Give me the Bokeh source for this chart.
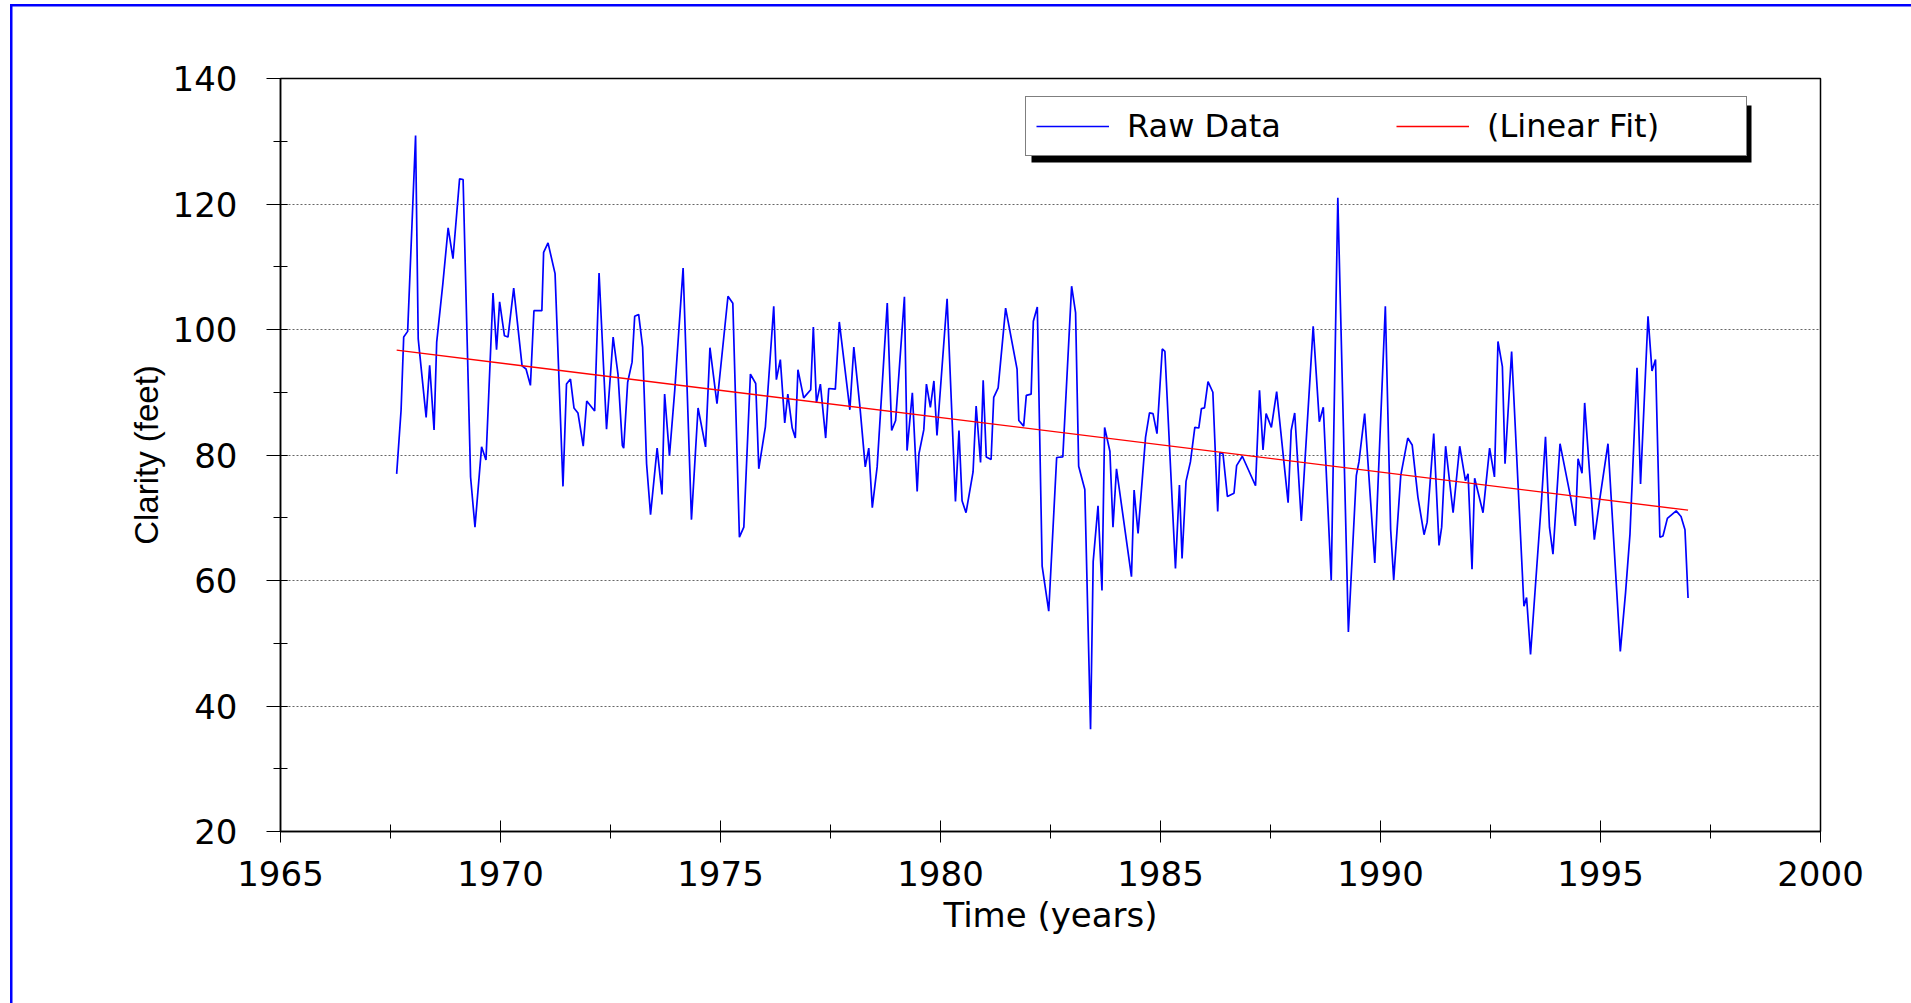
from bokeh.plotting import figure
from bokeh.models import (Range1d, SingleIntervalTicker, Legend, LegendItem,
                          BoxAnnotation, ColumnDataSource)
from bokeh.embed import file_html
from bokeh.resources import INLINE

# ---------------- data ----------------
years = [
    1967.64, 1967.74, 1967.80, 1967.89, 1968.07, 1968.13, 1968.31, 1968.39, 1968.49, 1968.55,
    1968.69, 1968.81, 1968.92, 1969.07, 1969.15, 1969.32, 1969.42, 1969.57, 1969.67, 1969.83,
    1969.91, 1969.98, 1970.09, 1970.17, 1970.30, 1970.49, 1970.58, 1970.68, 1970.76, 1970.94,
    1970.98, 1971.08, 1971.24, 1971.42, 1971.50, 1971.59, 1971.67, 1971.76, 1971.88, 1971.96,
    1972.14, 1972.24, 1972.41, 1972.56, 1972.67, 1972.77, 1972.80, 1972.89, 1972.99, 1973.05,
    1973.14, 1973.23, 1973.32, 1973.41, 1973.56, 1973.67, 1973.73, 1973.84, 1973.96, 1974.15,
    1974.34, 1974.49, 1974.66, 1974.76, 1974.92, 1975.17, 1975.28, 1975.43, 1975.53, 1975.68,
    1975.80, 1975.87, 1976.02, 1976.21, 1976.27, 1976.36, 1976.46, 1976.53, 1976.63, 1976.70,
    1976.76, 1976.89, 1977.05, 1977.11, 1977.18, 1977.27, 1977.39, 1977.46, 1977.61, 1977.70,
    1977.94, 1978.03, 1978.17, 1978.29, 1978.37, 1978.45, 1978.56, 1978.79, 1978.89, 1978.98,
    1979.18, 1979.24, 1979.36, 1979.47, 1979.51, 1979.62, 1979.68, 1979.77, 1979.85, 1979.92,
    1980.15, 1980.34, 1980.42, 1980.49, 1980.58, 1980.74, 1980.81, 1980.91, 1980.97, 1981.04,
    1981.15, 1981.21, 1981.31, 1981.48, 1981.74, 1981.78, 1981.89, 1981.95, 1982.06, 1982.11,
    1982.20, 1982.31, 1982.46, 1982.64, 1982.78, 1982.98, 1983.07, 1983.14, 1983.28, 1983.41,
    1983.47, 1983.58, 1983.67, 1983.73, 1983.85, 1983.92, 1984.00, 1984.34, 1984.40, 1984.49,
    1984.66, 1984.75, 1984.83, 1984.92, 1985.04, 1985.10, 1985.34, 1985.43, 1985.49, 1985.58,
    1985.68, 1985.78, 1985.87, 1985.93, 1986.00, 1986.08, 1986.19, 1986.30, 1986.35, 1986.42,
    1986.52, 1986.67, 1986.73, 1986.86, 1987.16, 1987.25, 1987.33, 1987.40, 1987.52, 1987.64,
    1987.90, 1987.97, 1988.05, 1988.20, 1988.47, 1988.61, 1988.70, 1988.88, 1989.03, 1989.27,
    1989.45, 1989.51, 1989.64, 1989.87, 1990.11, 1990.23, 1990.30, 1990.46, 1990.62, 1990.72,
    1990.85, 1990.99, 1991.06, 1991.21, 1991.33, 1991.39, 1991.48, 1991.65, 1991.80, 1991.93,
    1991.99, 1992.08, 1992.14, 1992.33, 1992.48, 1992.59, 1992.67, 1992.77, 1992.83, 1992.98,
    1993.26, 1993.32, 1993.41, 1993.55, 1993.66, 1993.75, 1993.84, 1993.92, 1994.08, 1994.32,
    1994.43, 1994.49, 1994.58, 1994.64, 1994.86, 1994.99, 1995.17, 1995.45, 1995.57, 1995.67,
    1995.83, 1995.91, 1996.08, 1996.17, 1996.25, 1996.35, 1996.42, 1996.52, 1996.72, 1996.83,
    1996.92, 1996.99,
]
clarity = [
    77.0, 87.1, 98.8, 99.7, 130.9, 98.5, 86.0, 94.3, 84.0, 98.0,
    107.3, 116.2, 111.3, 124.0, 123.9, 76.5, 68.5, 81.3, 79.2, 105.8,
    96.8, 104.4, 99.0, 98.8, 106.6, 94.2, 93.7, 91.1, 103.0, 103.0,
    112.3, 113.8, 108.9, 75.0, 91.3, 92.1, 87.5, 86.7, 81.4, 88.6,
    87.0, 109.0, 84.1, 98.8, 92.9, 81.5, 81.1, 91.6, 94.8, 102.1,
    102.4, 97.2, 78.6, 70.5, 81.1, 73.7, 89.7, 79.9, 90.3, 109.8,
    69.7, 87.5, 81.3, 97.1, 88.2, 105.3, 104.2, 66.9, 68.5, 92.9,
    91.4, 77.8, 84.5, 103.7, 92.0, 95.2, 85.1, 89.7, 84.3, 82.7,
    93.6, 89.1, 90.4, 100.4, 88.3, 91.3, 82.7, 90.6, 90.5, 101.2,
    87.2, 97.2, 87.6, 78.1, 81.1, 71.6, 78.1, 104.2, 83.9, 85.5,
    105.2, 80.7, 89.9, 74.2, 80.2, 84.0, 91.3, 87.6, 91.8, 83.1,
    104.9, 72.6, 83.9, 72.7, 70.8, 77.3, 87.8, 78.8, 91.9, 79.7,
    79.3, 89.2, 90.7, 103.4, 93.7, 85.5, 84.6, 89.5, 89.7, 101.3,
    103.6, 62.3, 55.1, 79.6, 79.7, 106.9, 102.7, 78.2, 74.5, 36.3,
    63.0, 71.9, 58.4, 84.4, 80.6, 68.5, 77.8, 60.6, 74.4, 67.5,
    82.8, 86.7, 86.6, 83.4, 96.9, 96.5, 61.9, 75.2, 63.5, 75.8,
    78.9, 84.4, 84.3, 87.4, 87.5, 91.7, 90.0, 71.0, 80.4, 80.2,
    73.4, 73.9, 78.3, 79.8, 75.1, 90.3, 80.8, 86.6, 84.4, 90.1,
    72.4, 83.9, 86.7, 69.5, 100.5, 85.3, 87.6, 60.0, 121.0, 51.8,
    76.7, 78.9, 86.6, 62.8, 103.7, 68.2, 60.1, 76.7, 82.7, 81.6,
    73.3, 67.3, 69.3, 83.4, 65.6, 68.5, 81.4, 70.8, 81.4, 75.9,
    77.0, 61.8, 76.3, 70.8, 81.1, 76.5, 98.1, 94.1, 78.6, 96.5,
    55.9, 57.3, 48.2, 62.0, 72.8, 82.9, 68.5, 64.2, 81.8, 73.3,
    68.7, 79.4, 77.1, 88.3, 66.5, 73.3, 81.8, 48.7, 58.1, 67.4,
    93.9, 75.4, 102.1, 93.4, 95.2, 66.9, 67.1, 69.9, 71.1, 70.2,
    68.1, 57.2,
]
fit_years = [1967.64, 1996.99]
fit_values = [96.7, 71.2]

x_label = "Time (years)"
y_label = "Clarity (feet)"
series_names = ["Raw Data", "(Linear Fit)"]

# ---------------- figure ----------------
p = figure(width=1911, height=1003, output_backend="svg", toolbar_location=None,
           x_range=Range1d(1965, 2000), y_range=Range1d(20, 140),
           min_border_left=280, min_border_right=91, min_border_top=78,
           min_border_bottom=172)
p.background_fill_color = "white"
# transparent border area so the page frame drawn on the host element shows through
p.border_fill_color = "white"
p.border_fill_alpha = 0.0
p.styles = {
    "background-color": "white",
    "box-shadow": "inset 10px 4px 0 0 white, inset 12.5px 6.5px 0 0 #0000ff",
}
p.outline_line_color = "black"
p.outline_line_width = 1.5

raw_src = ColumnDataSource(dict(x=years, y=clarity))
fit_src = ColumnDataSource(dict(x=fit_years, y=fit_values))
r_raw = p.line("x", "y", source=raw_src, line_color="#0000ff", line_width=1.7)
r_fit = p.line("x", "y", source=fit_src, line_color="#ff0000", line_width=1.3)

TICK_FONT = "DejaVu Sans"

xa = p.xaxis[0]
xa.ticker = SingleIntervalTicker(interval=5, num_minor_ticks=2)
xa.axis_label = x_label
xa.axis_line_color = "black"
xa.axis_line_width = 1.5
xa.major_tick_in = 11
xa.major_tick_out = 11
xa.minor_tick_in = 7
xa.minor_tick_out = 7
xa.major_tick_line_color = "black"
xa.minor_tick_line_color = "black"
xa.major_label_text_font = TICK_FONT
xa.major_label_text_font_size = "34px"
xa.major_label_text_color = "black"
xa.major_label_standoff = 18
xa.axis_label_text_font = TICK_FONT
xa.axis_label_text_font_size = "34px"
xa.axis_label_text_font_style = "normal"
xa.axis_label_text_color = "black"
xa.axis_label_standoff = 6

ya = p.yaxis[0]
ya.ticker = SingleIntervalTicker(interval=20, num_minor_ticks=2)
ya.axis_label = y_label
ya.axis_line_color = "black"
ya.axis_line_width = 1.5
ya.major_tick_in = 7
ya.major_tick_out = 14
ya.minor_tick_in = 7
ya.minor_tick_out = 7
ya.major_tick_line_color = "black"
ya.minor_tick_line_color = "black"
ya.major_label_text_font = TICK_FONT
ya.major_label_text_font_size = "34px"
ya.major_label_text_color = "black"
ya.major_label_standoff = 29
ya.axis_label_text_font = "Liberation Sans"
ya.axis_label_text_font_size = "33px"
ya.axis_label_text_font_style = "normal"
ya.axis_label_text_color = "black"
ya.axis_label_standoff = 5

p.xgrid.grid_line_color = None
p.ygrid.grid_line_color = "#666666"
p.ygrid.grid_line_dash = "2 2"
p.ygrid.grid_line_width = 1

# legend drop shadow
shadow = BoxAnnotation(left=1031, right=1751, top=105, bottom=162,
                       left_units="canvas", right_units="canvas",
                       top_units="canvas", bottom_units="canvas",
                       fill_color="black", fill_alpha=1, line_color=None)
p.add_layout(shadow)

legend = Legend(items=[LegendItem(label=series_names[0], renderers=[r_raw]),
                       LegendItem(label=series_names[1], renderers=[r_fit])],
                orientation="horizontal", location=(745, 675),
                border_line_color="black", border_line_width=1.5,
                background_fill_color="white", background_fill_alpha=1.0,
                padding=10, spacing=20, margin=0,
                glyph_width=73, glyph_height=20, label_standoff=18,
                label_width=249,
                label_text_font=TICK_FONT, label_text_font_size="32px",
                label_text_color="black")
p.add_layout(legend)

open("out.html", "w").write(file_html(p, INLINE))
